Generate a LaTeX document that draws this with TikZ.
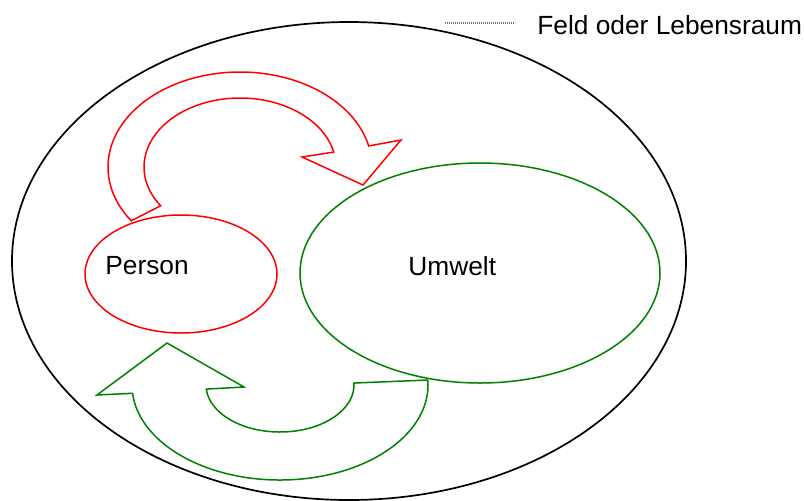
\documentclass[tikz,border=0pt]{standalone}
\usepackage{fontspec}
\setmainfont{Liberation Sans}
\definecolor{dgreen}{RGB}{0,128,0}
\begin{document}
\begin{tikzpicture}[x=0.5pt,y=-0.5pt,
  shape line/.style={line width=0.75pt, line join=miter},
  lbl/.style={inner sep=0pt, anchor=west, font=\fontsize{13.15pt}{15pt}\selectfont}]
\useasboundingbox (0,0) rectangle (804,500);
% field
\draw[black, line width=0.85pt] (349,261) ellipse [x radius=337, y radius=239];
% legend
\coordinate (legA) at (445,23);
\coordinate (legB) at (515,23);
\draw[gray!90!black, line width=0.6pt, dash pattern=on 0.6pt off 0.4pt] (legA) -- (legB);
\node[lbl] (leg) at (537,25) {Feld oder Lebensraum};
% person
\draw[shape line, red] (181,274) ellipse [x radius=96, y radius=59];
\node[lbl] (person) at (105,266) {Person};
% umwelt
\draw[shape line, dgreen] (480,273) ellipse [x radius=180, y radius=110];
\node[lbl] (umwelt) at (408,266) {Umwelt};
% red arrow
\draw[shape line, red]
  ([shift={(240,167)}]145.5:132 and 95) arc[start angle=145.5, end angle=347.2, x radius=132, y radius=95]
  -- (401,140) -- (363,185) -- (302,157)
  -- ([shift={(240,167)}]347.5:96 and 69) arc[start angle=347.5, end angle=145.8, x radius=96, y radius=69]
  -- cycle;
% green arrow
\draw[shape line, dgreen]
  ([shift={(280,385)}]-3:148 and 95) -- ([shift={(280,385)}]-2.4:74 and 47)
  arc[start angle=-2.4, end angle=175, x radius=74, y radius=47]
  -- (244,387) -- (167,343) -- (97,395)
  -- ([shift={(280,385)}]175:148 and 95) arc[start angle=175, end angle=-3, x radius=148, y radius=95]
  -- cycle;
\end{tikzpicture}
\end{document}
